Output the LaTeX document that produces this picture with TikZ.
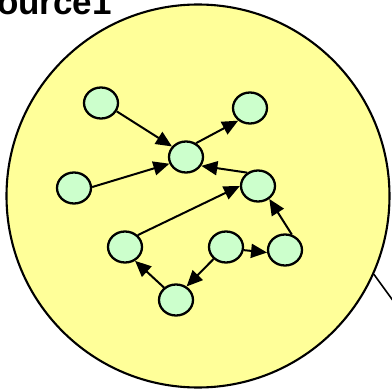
\documentclass[tikz,border=0pt]{standalone}
\usepackage{fontspec}
\setmainfont{Liberation Sans}
\usetikzlibrary{arrows.meta,shapes.geometric}
\definecolor{poolyellow}{HTML}{FFFF99}
\definecolor{nodegreen}{HTML}{CCFFCC}

\begin{document}
\begin{tikzpicture}[
	x=0.5pt, y=-0.5pt,
	every node/.style={ellipse, draw, fill=nodegreen, line width=1.15pt, inner sep=0pt, minimum width=17pt, minimum height=15.5pt},
	pool/.style={circle, fill=poolyellow, line width=1.05pt, minimum size=191.5pt},
	ttl/.style={rectangle, draw=none, fill=none, minimum size=0pt, font=\fontsize{17.5}{21}\selectfont\bfseries},
	edge/.style={-{Triangle[length=8pt,width=7pt]}, line width=1pt}
	]
	\useasboundingbox (0,0) rectangle (392,391);
	\node[pool] (src) at (198,196) {};
	\node[ttl, anchor=base east] (title) at (113,15) {Source1};
	\coordinate (out) at (402,313);
	\draw[line width=0.8pt] (src.-24) -- (out);
	% flow nodes
	\node (v1) at (101,103) {};
	\node (v2) at (250,108) {};
	\node (v3) at (186,157) {};
	\node (v4) at (74,188) {};
	\node (v5) at (258,186) {};
	\node (v6) at (125,247) {};
	\node (v7) at (226,247) {};
	\node (v8) at (285,250) {};
	\node (v9) at (176,300) {};
	\draw[edge] (v1.-28) -- (v3.143);
	\draw[edge] (v3.54) -- (v2.227);
	\draw[edge] (v4.3) -- (v3.202);
	\draw[edge] (v5.129) -- (v3.-30);
	\draw[edge] (v6.43) -- (v5.180);
	\draw[edge] (v8.66) -- (v5.-49);
	\draw[edge] (v7.-10) -- (v8.188);
	\draw[edge] (v7.224) -- (v9.52);
	\draw[edge] (v9.134) -- (v6.-54);
\end{tikzpicture}
\end{document}
